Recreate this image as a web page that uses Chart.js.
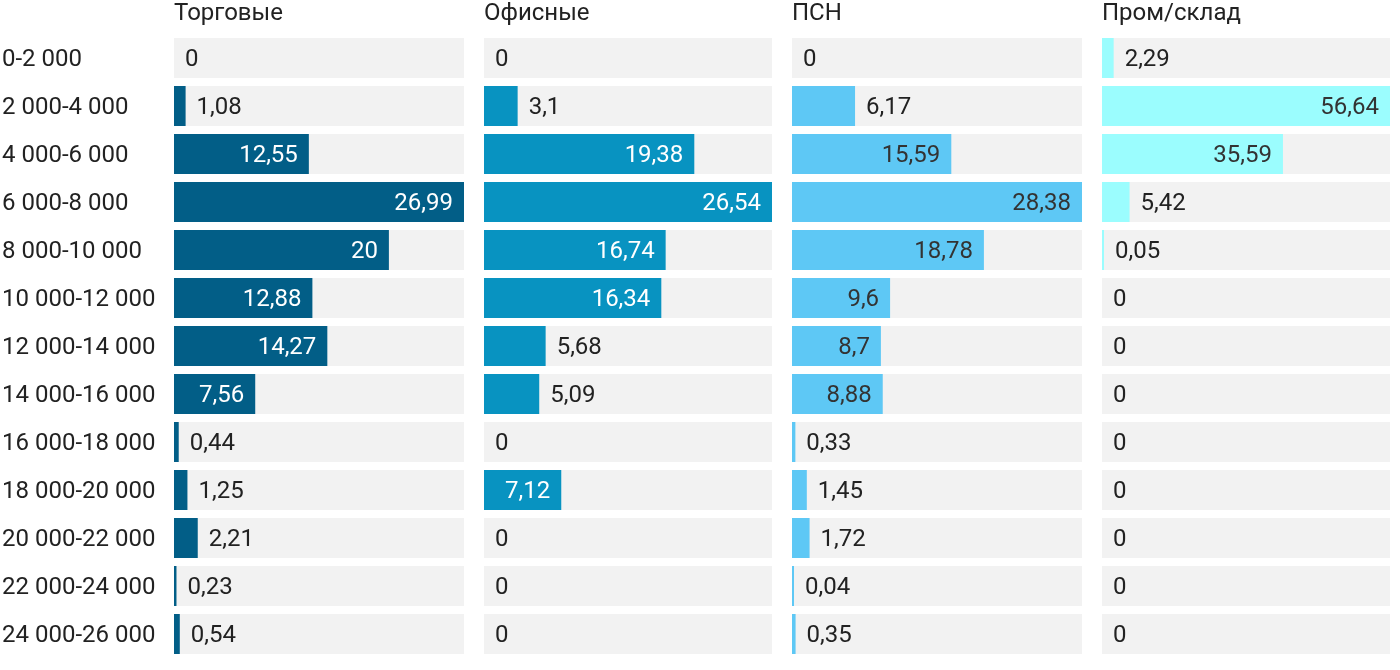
<!DOCTYPE html>
<html>
<head>
<meta charset="utf-8">
<script src="https://cdn.jsdelivr.net/npm/chart.js@4.4.1/dist/chart.umd.min.js"></script>
<style>
  html, body { margin: 0; padding: 0; background: #ffffff; }
  body { width: 1400px; height: 670px; position: relative; overflow: hidden; }
  .panel { position: absolute; top: 0; height: 670px; }
</style>
</head>
<body>
<div class="panel" id="p0" style="left:0px;width:464px"><canvas id="c0"></canvas></div>
<div class="panel" id="p1" style="left:484px;width:288px"><canvas id="c1"></canvas></div>
<div class="panel" id="p2" style="left:792px;width:290px"><canvas id="c2"></canvas></div>
<div class="panel" id="p3" style="left:1102px;width:288px"><canvas id="c3"></canvas></div>
<script>
const categories = ["0-2 000","2 000-4 000","4 000-6 000","6 000-8 000","8 000-10 000","10 000-12 000","12 000-14 000","14 000-16 000","16 000-18 000","18 000-20 000","20 000-22 000","22 000-24 000","24 000-26 000"];
const seriesNames = ["Торговые","Офисные","ПСН","Пром/склад"];
const retail = [0, 1.08, 12.55, 26.99, 20, 12.88, 14.27, 7.56, 0.44, 1.25, 2.21, 0.23, 0.54];
const office = [0, 3.1, 19.38, 26.54, 16.74, 16.34, 5.68, 5.09, 0, 7.12, 0, 0, 0];
const psn = [0, 6.17, 15.59, 28.38, 18.78, 9.6, 8.7, 8.88, 0.33, 1.45, 1.72, 0.04, 0.35];
const industrial = [2.29, 56.64, 35.59, 5.42, 0.05, 0, 0, 0, 0, 0, 0, 0, 0];

const seriesData = [retail, office, psn, industrial];
const barColors = ["#025e87", "#0893c1", "#5ec8f5", "#9bfdfe"];
const insideText = ["#ffffff", "#ffffff", "#333333", "#333333"];
const FONT = "Roboto";
const FS = 24;

const labelPlugin = {
  id: 'valueLabels',
  afterDatasetsDraw(chart) {
    const ctx = chart.ctx;
    const idx = chart.options.plugins.valueLabels.panel;
    const meta = chart.getDatasetMeta(1);
    const data = chart.data.datasets[1].data;
    const left = chart.chartArea.left;
    ctx.save();
    ctx.font = FS + "px " + FONT;
    ctx.textBaseline = "middle";
    meta.data.forEach((bar, i) => {
      const v = data[i];
      const txt = String(v).replace('.', ',');
      const w = bar.x - left;
      if (v > 0 && w >= 70) {
        ctx.textAlign = "right";
        ctx.fillStyle = insideText[idx];
        ctx.fillText(txt, bar.x - 11, bar.y + 2);
      } else {
        ctx.textAlign = "left";
        ctx.fillStyle = "#222222";
        const x = v > 0 ? bar.x : left;
        ctx.fillText(txt, x + 11, bar.y + 2);
      }
    });
    ctx.restore();
  }
};

function makeChart(i) {
  const vals = seriesData[i];
  const maxV = Math.max(...vals);
  const bg = vals.map(() => maxV);
  new Chart(document.getElementById('c' + i), {
    type: 'bar',
    data: {
      labels: categories,
      datasets: [
        {
          data: bg,
          backgroundColor: '#f2f2f2',
          grouped: false,
          order: 2,
          barPercentage: 40/48,
          categoryPercentage: 1
        },
        {
          data: vals,
          backgroundColor: (c) => (vals[c.dataIndex] > 0 ? barColors[i] : 'rgba(0,0,0,0)'),
          grouped: false,
          order: 1,
          minBarLength: 2,
          barPercentage: 40/48,
          categoryPercentage: 1
        }
      ]
    },
    options: {
      indexAxis: 'y',
      responsive: true,
      maintainAspectRatio: false,
      animation: false,
      layout: { padding: { left: i === 0 ? 2 : 0, right: 0, top: 0, bottom: 12 } },
      plugins: {
        legend: { display: false },
        tooltip: { enabled: false },
        valueLabels: { panel: i }
      },
      scales: {
        x: {
          position: 'top',
          min: 0,
          max: maxV,
          grid: { display: false },
          border: { display: false },
          ticks: { display: false },
          title: {
            display: true,
            text: seriesNames[i],
            align: 'start',
            color: '#222222',
            font: { family: FONT, size: FS },
            padding: { top: 0, bottom: 0 }
          },
          afterFit(scale) { scale.height = 34; scale.paddingLeft = 0; scale.paddingRight = 0; }
        },
        y: {
          display: i === 0,
          grid: { display: false },
          border: { display: false },
          ticks: {
            crossAlign: 'far',
            color: '#222222',
            padding: 0,
            labelOffset: 2,
            font: { family: FONT, size: FS }
          },
          afterFit(scale) {
            if (i === 0) scale.width = 172;
            scale.paddingTop = 0;
            scale.paddingBottom = 0;
          }
        }
      }
    },
    plugins: [labelPlugin]
  });
}
for (let i = 0; i < 4; i++) makeChart(i);
</script>
</body>
</html>
